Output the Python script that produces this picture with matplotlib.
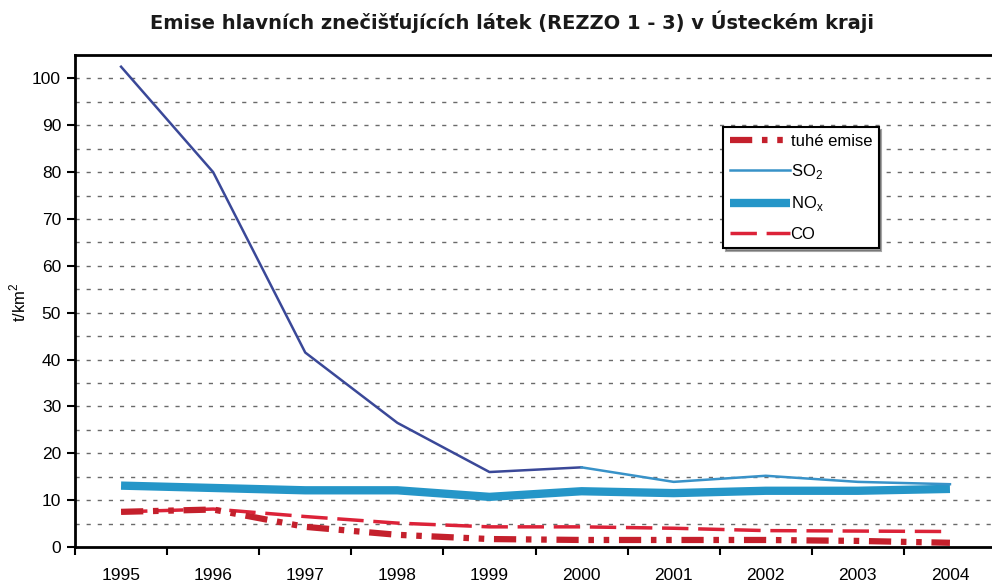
import matplotlib
matplotlib.use("Agg")
import matplotlib.pyplot as plt
import numpy as np

plt.rcParams['font.family'] = ['Liberation Sans', 'DejaVu Sans']
plt.rcParams['lines.scale_dashes'] = False

years = ['1995', '1996', '1997', '1998', '1999', '2000', '2001', '2002', '2003', '2004']
tuhe = [7.5, 8.0, 4.3, 2.6, 1.7, 1.5, 1.5, 1.5, 1.3, 0.9]
so2 = [102.5, 80.0, 41.5, 26.5, 16.0, 17.0, 13.9, 15.2, 13.9, 13.4]
nox = [13.1, 12.6, 12.1, 12.1, 10.7, 11.9, 11.5, 12.0, 12.0, 12.4]
co = [7.5, 8.1, 6.5, 5.1, 4.3, 4.3, 4.0, 3.5, 3.4, 3.3]

W, H = 992, 585
fig = plt.figure(figsize=(W / 100, H / 100), dpi=100)
ax_left, ax_right, ax_top, ax_bot = 75, 996, 55, 547
ax = fig.add_axes([ax_left / W, (H - ax_bot) / H, (ax_right - ax_left) / W, (ax_bot - ax_top) / H])

x = np.arange(len(years))

# gridlines every 5
for v in np.arange(5, 105, 5):
    ax.axhline(v, color='#6a6a6a', lw=1.0, dashes=(3, 5), zorder=1)

l_nox, = ax.plot(x, nox, color='#2596c8', lw=6, solid_capstyle='butt', zorder=3, label='NO$_\\mathregular{x}$')
ax.plot(x[:6], so2[:6], color='#3a4898', lw=1.8, zorder=4)
l_so2, = ax.plot(x[5:], so2[5:], color='#3892c8', lw=1.8, zorder=4, label='SO$_\\mathregular{2}$')
l_co, = ax.plot(x, co, color='#dc2238', lw=2.5, dashes=(19, 7), zorder=3, label='CO')
l_tuhe, = ax.plot(x, tuhe, color='#c4202c', lw=4.5, dashes=(16, 7, 4, 7, 4, 7), zorder=3, label='tuhé emise')

ax.set_xlim(-0.5, 9.5)
ax.set_ylim(0, 105)
ax.set_yticks(np.arange(0, 101, 10))
ax.set_yticklabels([str(v) for v in range(0, 101, 10)])
ax.set_xticks(np.arange(-0.5, 10, 1))
ax.set_xticklabels([])
ax.set_xticks(x, minor=True)
ax.set_xticklabels(years, minor=True)
ax.tick_params(axis='x', which='major', length=6, width=1.5, direction='out', color='black')
ax.tick_params(axis='x', which='minor', length=0, pad=15, labelsize=12.5)
ax.tick_params(axis='y', length=6, width=1.5, direction='out', pad=4, labelsize=12.5)

for s in ['left', 'bottom', 'top']:
    ax.spines[s].set_linewidth(2)
    ax.spines[s].set_color('black')
ax.spines['right'].set_visible(False)

leg = ax.legend(handles=[l_tuhe, l_so2, l_nox, l_co], loc='upper left',
                bbox_to_anchor=((723 - ax_left) / (ax_right - ax_left), (ax_bot - 127) / (ax_bot - ax_top)),
                fontsize=12, frameon=True, fancybox=False, shadow=True,
                handlelength=3.6, handletextpad=0.05, labelspacing=0.8,
                borderpad=0.4, borderaxespad=0)
leg.get_frame().set_edgecolor('black')
leg.get_frame().set_linewidth(1.5)

fig.text(511.5 / W, (H - 22) / H, 'Emise hlavních znečišťujících látek (REZZO 1 - 3) v Ústeckém kraji',
         ha='center', va='center', fontsize=14, fontweight='bold', family=['DejaVu Sans'], color='#1a1a1a')
fig.text(18 / W, (H - 302) / H, 't/km$^\\mathregular{2}$', rotation=90, ha='center', va='center', fontsize=12)

fig.savefig('out.png', dpi=100, facecolor='white')
